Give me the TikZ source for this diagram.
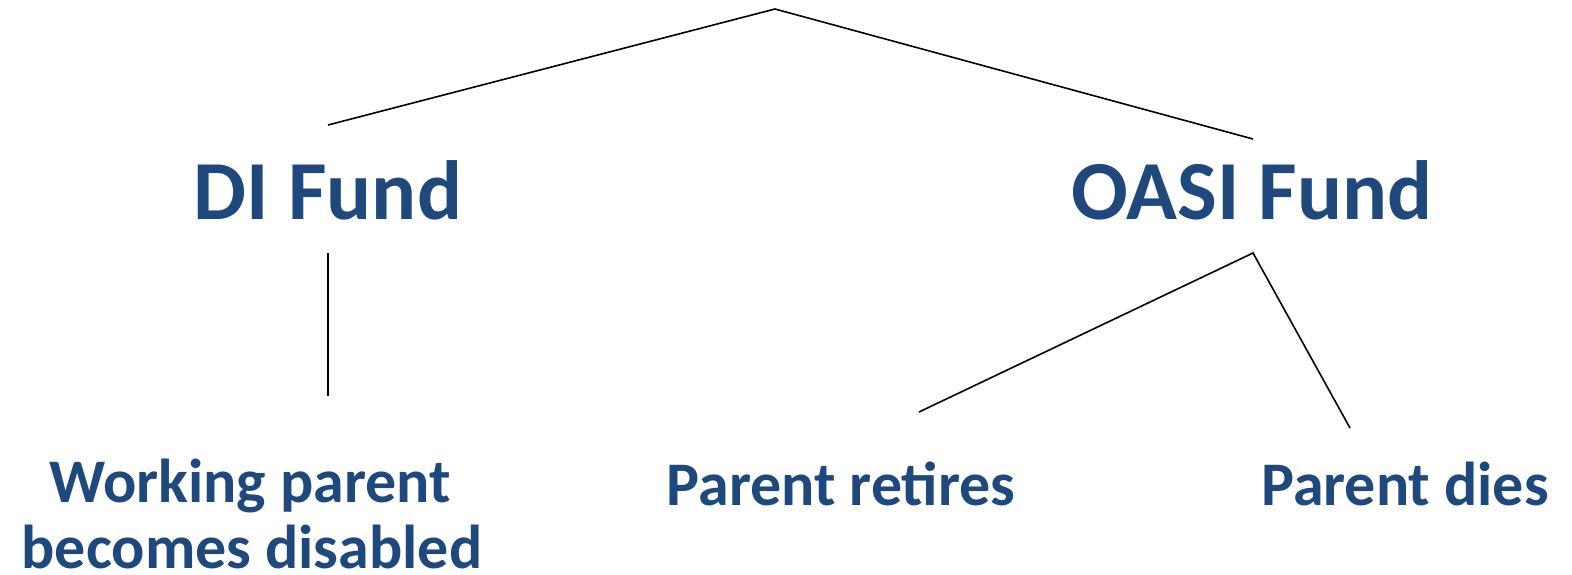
\documentclass[tikz,border=0pt]{standalone}
\usepackage{fontspec}
\setmainfont{Carlito}
\definecolor{titleblue}{HTML}{1F497D}
\begin{document}
\begin{tikzpicture}[x=1pt,y=-1pt,
  big/.style={font=\fontsize{84}{92}\selectfont\bfseries,text=titleblue,inner sep=0pt,anchor=base},
  small/.style={font=\fontsize{62}{66}\selectfont\bfseries,text=titleblue,inner sep=0pt,anchor=base,align=center},
  conn/.style={draw=black,line width=1.6pt}]
\useasboundingbox (0,0) rectangle (1572,574);
\coordinate (top) at (775,9);
\coordinate (diT) at (328,125);
\coordinate (oaT) at (1253,139);
\coordinate (diB) at (328,253);
\coordinate (diE) at (328,396);
\coordinate (oaB) at (1253,253);
\coordinate (retE) at (919,412);
\coordinate (diesE) at (1350,428);
\node[big] (di) at (328,219) {DI Fund};
\node[big] (oasi) at (1252,219) {OASI Fund};
\node[small] (work) at (250,502) {Working parent};
\node[small] (work2) at (252,568) {becomes disabled};
\node[small] (ret) at (841,505) {Parent retires};
\node[small] (dies) at (1405,505) {Parent dies};
\draw[conn] (diT) -- (top) -- (oaT);
\draw[conn] (diB) -- (diE);
\draw[conn] (retE) -- (oaB) -- (diesE);
\end{tikzpicture}
\end{document}
